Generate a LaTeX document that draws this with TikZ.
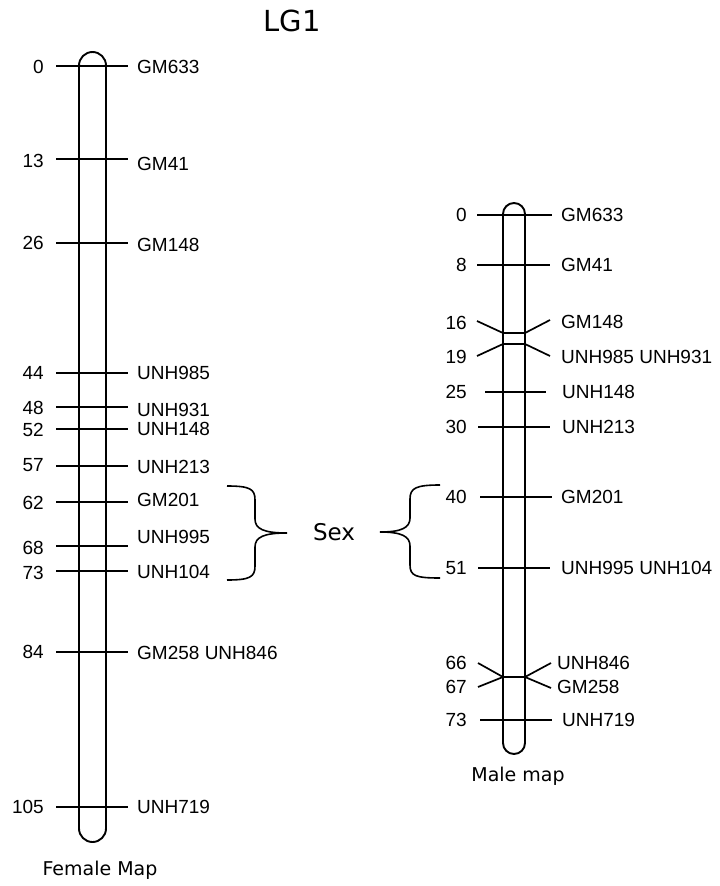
\documentclass[tikz,border=0pt]{standalone}
\usepackage{fontspec}
\setmainfont{Liberation Sans}
\newfontfamily\verd{DejaVu Sans}
\begin{document}
\begin{tikzpicture}[x=1pt,y=-1pt,
  lab/.style={inner sep=0pt, font=\fontsize{19}{19}\selectfont, text height=13.6pt, text depth=0pt},
  numl/.style={lab, anchor=east},
  namel/.style={lab, anchor=west},
  mline/.style={line width=1.7pt},
  chrom/.style={draw, line width=1.9pt, inner sep=0pt},
  bracel/.style={line width=1.6pt},
  maptitle/.style={inner sep=0pt, font=\verd\fontsize{19}{19}\selectfont}]
\useasboundingbox (0,0) rectangle (720,886);
% title
\node[inner sep=0pt, font=\verd\fontsize{29}{29}\selectfont] (title) at (292,21) {LG1};
% female chromosome
\node[chrom, rounded corners=13.5pt, minimum width=27pt, minimum height=790pt] (F) at (92.5,447) {};
\foreach \ly/\ny/\my/\num/\nm [count=\i] in {
  66/67/67/0/GM633, 159/161/164/13/GM41, 243/243/245/26/GM148,
  373/373/373/44/UNH985, 407/408/410/48/UNH931, 429/430/429/52/UNH148,
  466/465/467/57/UNH213, 502/503/500/62/GM201, 546/548/537/68/UNH995,
  571/573/572/73/UNH104, 652/652/653/84/GM258 UNH846, 807/807/807/105/UNH719}{
  \coordinate (fa\i) at (56,\ly);
  \coordinate (fb\i) at (128,\ly);
  \draw[mline] (fa\i) -- (fb\i);
  \node[numl] (fn\i) at (44,\ny) {\num};
  \node[namel] (fm\i) at (137,\my) {\nm};
}
\node[maptitle] (fcap) at (100,870) {Female Map};
% male chromosome
\node[chrom, rounded corners=11pt, minimum width=22pt, minimum height=551pt] (M) at (514,478.5) {};
\foreach \ly/\xa/\xb/\num/\nm/\nx [count=\i] in {
  215/477/552/0/GM633/561, 265/477/550/8/GM41/561, 392/485/546/25/UNH148/562,
  427/478/550/30/UNH213/562, 497/480/552/40/GM201/561, 568/478/550/51/UNH995 UNH104/561,
  720/480/552/73/UNH719/562}{
  \coordinate (ma\i) at (\xa,\ly);
  \coordinate (mb\i) at (\xb,\ly);
  \draw[mline] (ma\i) -- (mb\i);
  \node[numl] (mn\i) at (467,\ly) {\num};
  \node[namel] (mm\i) at (\nx,\ly) {\nm};
}
% crossing markers 16/19
\coordinate (c16l) at (477,321); \coordinate (c19l) at (477,356);
\coordinate (c16a) at (503,333); \coordinate (c16b) at (525,333);
\coordinate (c19a) at (503,344); \coordinate (c19b) at (525,344);
\coordinate (c16r) at (550,320); \coordinate (c19r) at (550,356);
\draw[mline] (c16l) -- (c16a) -- (c16b) -- (c16r);
\draw[mline] (c19l) -- (c19a) -- (c19b) -- (c19r);
\node[numl] (n16) at (467,323) {16};
\node[numl] (n19) at (467,357) {19};
\node[namel] (m16) at (561,322) {GM148};
\node[namel] (m19) at (561,357) {UNH985 UNH931};
% crossing markers 66/67
\coordinate (c66l) at (478,663); \coordinate (c67l) at (478,687);
\coordinate (c6a) at (503,677); \coordinate (c6b) at (525,677);
\coordinate (c66r) at (551,663); \coordinate (c67r) at (551,688);
\draw[mline] (c66l) -- (c6a) -- (c6b) -- (c66r);
\draw[mline] (c67l) -- (c6a);
\draw[mline] (c6b) -- (c67r);
\node[numl] (n66) at (467,663) {66};
\node[numl] (n67) at (467,687) {67};
\node[namel] (m66) at (557,663) {UNH846};
\node[namel] (m67) at (557,687) {GM258};
\node[maptitle] (mcap) at (518,776) {Male map};
% braces and Sex
\node[inner sep=0pt, font=\verd\fontsize{23}{23}\selectfont] (sex) at (334,532) {Sex};
\draw[bracel] (227,486) .. controls (250,486) and (255,489) .. (255,500) -- (255,519)
  .. controls (255,529) and (264,533) .. (287,533)
  .. controls (264,533) and (255,537) .. (255,547) -- (255,566)
  .. controls (255,577) and (250,580) .. (227,580);
\draw[bracel] (440,485) .. controls (416,485) and (410,488) .. (410,499) -- (410,518)
  .. controls (410,528) and (401,532) .. (380,532)
  .. controls (401,532) and (410,536) .. (410,546) -- (410,565)
  .. controls (410,576) and (416,578) .. (440,578);
\end{tikzpicture}
\end{document}
